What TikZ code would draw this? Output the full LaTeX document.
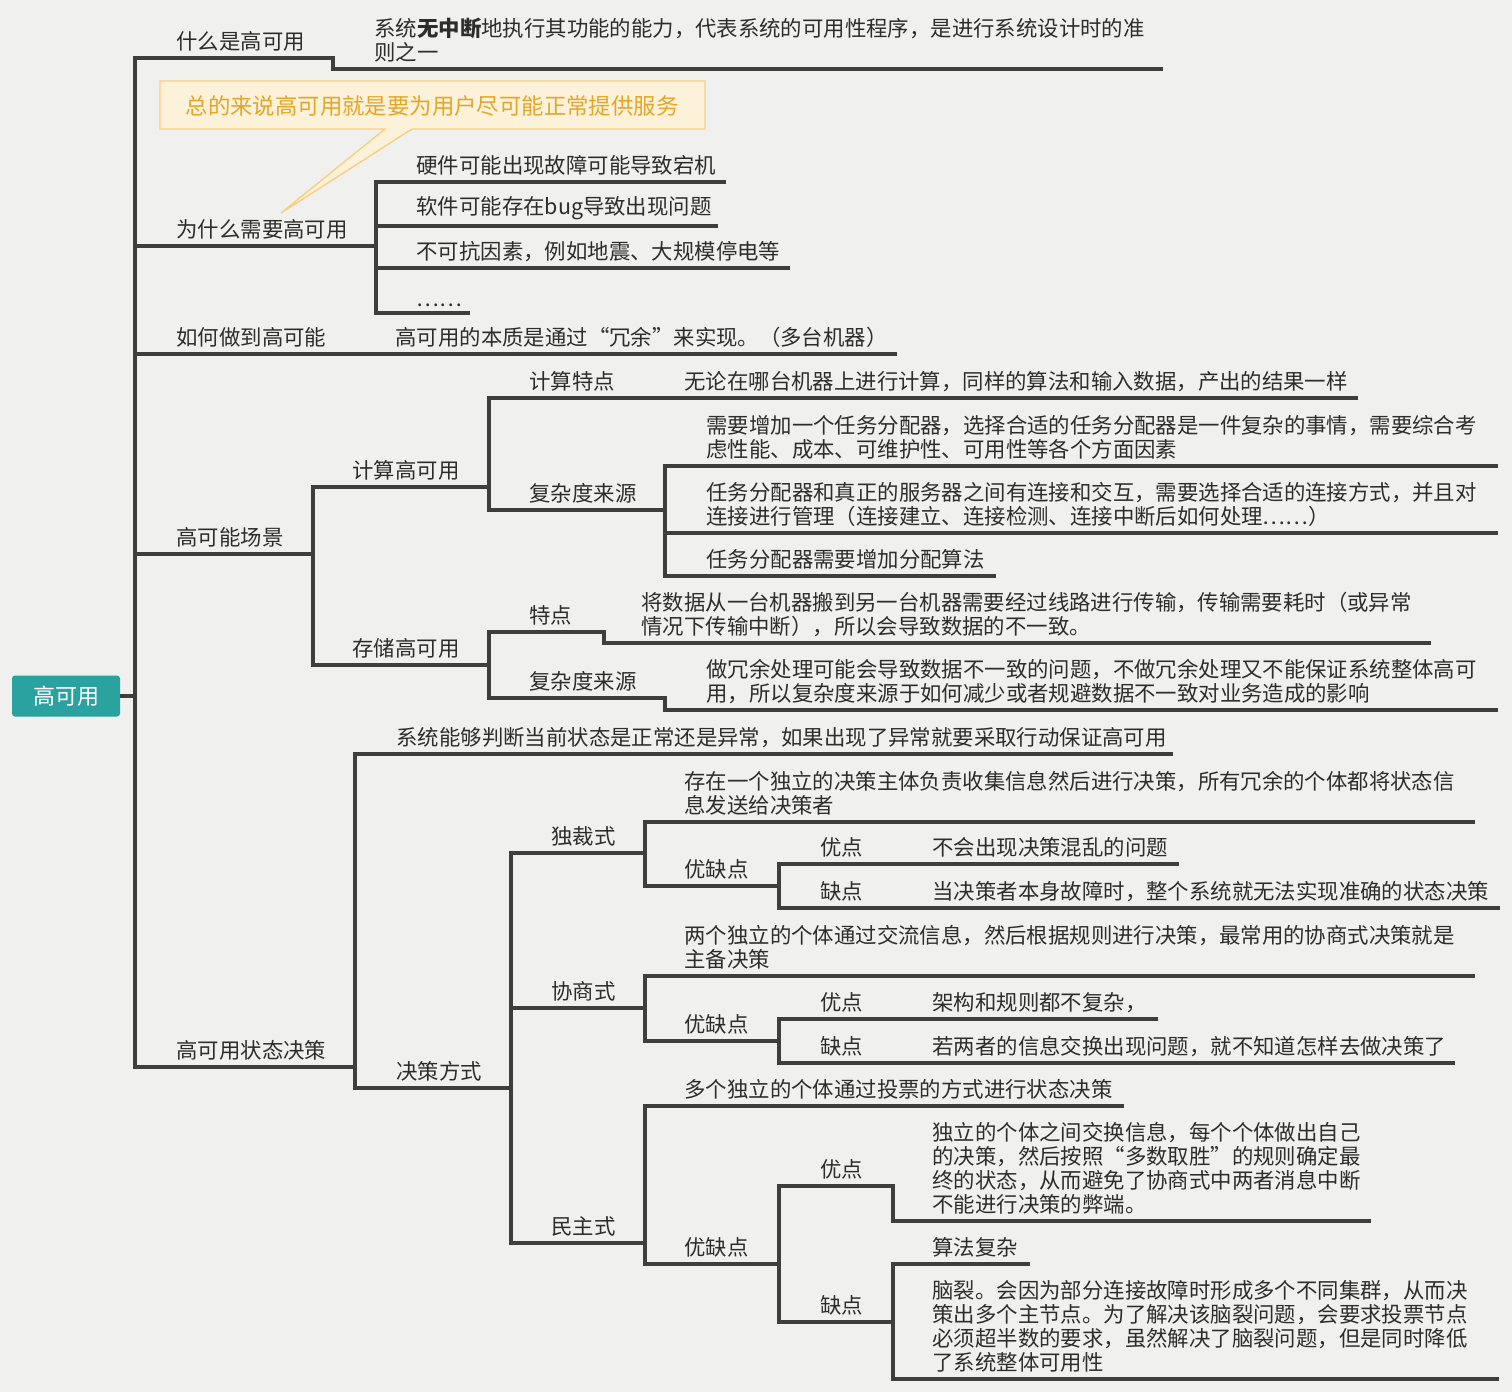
\documentclass[tikz,border=0pt]{standalone}
\usepackage{fontspec}
\usetikzlibrary{positioning}
\newfontfamily\cjk{Noto Sans CJK SC}
\definecolor{PaperGray}{RGB}{240,240,238}
\definecolor{LineGray}{RGB}{62,62,62}
\definecolor{InkGray}{RGB}{45,45,45}
\definecolor{RootTeal}{RGB}{42,163,160}
\definecolor{NoteFill}{RGB}{252,242,218}
\definecolor{NoteEdge}{RGB}{248,206,130}
\definecolor{NoteInk}{RGB}{228,165,40}

\begin{document}
\begin{tikzpicture}[x=0.5pt,y=-0.5pt,
  branch/.style={draw=LineGray,line width=2pt},
  item/.style={anchor=south west,inner sep=0pt,yshift=3pt,align=left,
    font=\cjk\fontsize{10.7}{12}\selectfont,text=InkGray},
  rootbox/.style={fill=RootTeal,rounded corners=1.5pt,minimum width=54pt,
    minimum height=20.5pt,inner sep=0pt,text=white,font=\cjk\fontsize{11}{12}\selectfont}]
  \fill[PaperGray] (0,0) rectangle (1512,1392);
  \useasboundingbox (0,0) rectangle (1512,1392);

  % trunks (x only)
  \coordinate (t0) at (135,0);
  \coordinate (t1) at (376,0);
  \coordinate (t2) at (313,0);
  \coordinate (t3) at (489,0);
  \coordinate (t4) at (665,0);
  \coordinate (t5) at (355,0);
  \coordinate (t6) at (511,0);
  \coordinate (t7) at (645,0);
  \coordinate (t8) at (779,0);
  \coordinate (t9) at (893,0);

  % line ends
  \coordinate (whatS1) at (333,58);
  \coordinate (whatS2) at (333,69);
  \coordinate (whatE) at (1163,69);
  \coordinate (whyE) at (376,246);
  \coordinate (why1E) at (726,182);
  \coordinate (why2E) at (718,226);
  \coordinate (why3E) at (790,268);
  \coordinate (why4E) at (470,313);
  \coordinate (howE) at (897,354);
  \coordinate (sceneE) at (313,554);
  \coordinate (calcE) at (489,487);
  \coordinate (calcFeatE) at (1358,398);
  \coordinate (calcCplxE) at (665,510);
  \coordinate (cc1E) at (1498,466);
  \coordinate (cc2E) at (1498,533);
  \coordinate (cc3E) at (996,576);
  \coordinate (storeE) at (489,665);
  \coordinate (storeFeatS1) at (604,632);
  \coordinate (storeFeatS2) at (604,643);
  \coordinate (storeFeatE) at (1431,643);
  \coordinate (storeCplxS1) at (665,698);
  \coordinate (storeCplxS2) at (665,710);
  \coordinate (storeCplxE) at (1498,710);
  \coordinate (stateE) at (355,1067);
  \coordinate (stateTxtE) at (1173,754);
  \coordinate (modeE) at (511,1088);
  \coordinate (dictE) at (645,853);
  \coordinate (dictTxtE) at (1475,822);
  \coordinate (dictPcE) at (779,886);
  \coordinate (dictProE) at (1179,864);
  \coordinate (dictConE) at (1500,908);
  \coordinate (negoE) at (645,1008);
  \coordinate (negoTxtE) at (1475,976);
  \coordinate (negoPcE) at (779,1041);
  \coordinate (negoProE) at (1158,1019);
  \coordinate (negoConE) at (1455,1063);
  \coordinate (demoE) at (645,1243);
  \coordinate (demoTxtE) at (1124,1106);
  \coordinate (demoPcE) at (779,1264);
  \coordinate (demoProS1) at (893,1186);
  \coordinate (demoProS2) at (893,1221);
  \coordinate (demoProE) at (1371,1221);
  \coordinate (demoConE) at (893,1322);
  \coordinate (demoCon1E) at (1030,1264);
  \coordinate (demoCon2E) at (1499,1379);

  % callout
  \filldraw[fill=NoteFill,draw=NoteEdge,line width=0.7pt]
    (160,81) -- (705,81) -- (705,129) -- (412,129) -- (281,213) -- (385,129) -- (160,129) -- cycle;
  \node[inner sep=0pt,font=\cjk\fontsize{11.2}{12}\selectfont,text=NoteInk] (note) at (432,106)
    {总的来说高可用就是要为用户尽可能正常提供服务};

  % root and main trunk
  \node[rootbox] (root) at (66,696) {高可用};
  \draw[branch] (root.east) -- (t0 |- root.east);
  \draw[branch] (whatE) -- (whatS2) -- (whatS1) -- (t0 |- whatS1) -- (t0 |- stateE) -- (stateE);
  \draw[branch] (t0 |- whyE) -- (whyE);
  \draw[branch] (t0 |- howE) -- (howE);
  \draw[branch] (t0 |- sceneE) -- (sceneE);

  % why
  \draw[branch] (why1E) -- (t1 |- why1E) -- (t1 |- why4E) -- (why4E);
  \draw[branch] (t1 |- why2E) -- (why2E);
  \draw[branch] (t1 |- why3E) -- (why3E);

  % scene
  \draw[branch] (calcE) -- (t2 |- calcE) -- (t2 |- storeE) -- (storeE);
  \draw[branch] (calcFeatE) -- (t3 |- calcFeatE) -- (t3 |- calcCplxE) -- (calcCplxE);
  \draw[branch] (cc1E) -- (t4 |- cc1E) -- (t4 |- cc3E) -- (cc3E);
  \draw[branch] (t4 |- cc2E) -- (cc2E);
  \draw[branch] (storeFeatE) -- (storeFeatS2) -- (storeFeatS1) -- (t3 |- storeFeatS1)
    -- (t3 |- storeCplxS1) -- (storeCplxS1) -- (storeCplxS2) -- (storeCplxE);

  % state
  \draw[branch] (stateTxtE) -- (t5 |- stateTxtE) -- (t5 |- modeE) -- (modeE);
  \draw[branch] (dictE) -- (t6 |- dictE) -- (t6 |- demoE) -- (demoE);
  \draw[branch] (t6 |- negoE) -- (negoE);
  \draw[branch] (dictTxtE) -- (t7 |- dictTxtE) -- (t7 |- dictPcE) -- (dictPcE);
  \draw[branch] (dictProE) -- (t8 |- dictProE) -- (t8 |- dictConE) -- (dictConE);
  \draw[branch] (negoTxtE) -- (t7 |- negoTxtE) -- (t7 |- negoPcE) -- (negoPcE);
  \draw[branch] (negoProE) -- (t8 |- negoProE) -- (t8 |- negoConE) -- (negoConE);
  \draw[branch] (demoTxtE) -- (t7 |- demoTxtE) -- (t7 |- demoPcE) -- (demoPcE);
  \draw[branch] (demoProE) -- (demoProS2) -- (demoProS1) -- (t8 |- demoProS1)
    -- (t8 |- demoConE) -- (demoConE);
  \draw[branch] (demoCon1E) -- (t9 |- demoCon1E) -- (t9 |- demoCon2E) -- (demoCon2E);

  % texts
  \node[item] (what) at (176,58) {什么是高可用};
  \node[item] (whatTxt) at (374,69) {系统\textbf{无中断}地执行其功能的能力，代表系统的可用性程序，是进行系统设计时的准\\则之一};
  \node[item] (why) at (176,246) {为什么需要高可用};
  \node[item] (why1) at (416,182) {硬件可能出现故障可能导致宕机};
  \node[item] (why2) at (416,226) {软件可能存在bug导致出现问题};
  \node[item] (why3) at (416,268) {不可抗因素，例如地震、大规模停电等};
  \node[item] (why4) at (416,313) {……};
  \node[item] (how) at (176,354) {如何做到高可能};
  \node[item] (howTxt) at (395,354) {高可用的本质是通过“冗余”来实现。（多台机器）};
  \node[item] (scene) at (176,554) {高可能场景};
  \node[item] (calc) at (352,487) {计算高可用};
  \node[item] (calcFeat) at (529,398) {计算特点};
  \node[item] (calcFeatTxt) at (684,398) {无论在哪台机器上进行计算，同样的算法和输入数据，产出的结果一样};
  \node[item] (calcCplx) at (529,510) {复杂度来源};
  \node[item] (cc1) at (706,466) {需要增加一个任务分配器，选择合适的任务分配器是一件复杂的事情，需要综合考\\虑性能、成本、可维护性、可用性等各个方面因素};
  \node[item] (cc2) at (706,533) {任务分配器和真正的服务器之间有连接和交互，需要选择合适的连接方式，并且对\\连接进行管理（连接建立、连接检测、连接中断后如何处理……）};
  \node[item] (cc3) at (706,576) {任务分配器需要增加分配算法};
  \node[item] (store) at (352,665) {存储高可用};
  \node[item] (storeFeat) at (529,632) {特点};
  \node[item] (storeFeatTxt) at (641,643) {将数据从一台机器搬到另一台机器需要经过线路进行传输，传输需要耗时（或异常\\情况下传输中断），所以会导致数据的不一致。};
  \node[item] (storeCplx) at (529,698) {复杂度来源};
  \node[item] (storeCplxTxt) at (706,710) {做冗余处理可能会导致数据不一致的问题，不做冗余处理又不能保证系统整体高可\\用，所以复杂度来源于如何减少或者规避数据不一致对业务造成的影响};
  \node[item] (state) at (176,1067) {高可用状态决策};
  \node[item] (stateTxt) at (396,754) {系统能够判断当前状态是正常还是异常，如果出现了异常就要采取行动保证高可用};
  \node[item] (mode) at (396,1088) {决策方式};
  \node[item] (dict) at (551,853) {独裁式};
  \node[item] (dictTxt) at (684,822) {存在一个独立的决策主体负责收集信息然后进行决策，所有冗余的个体都将状态信\\息发送给决策者};
  \node[item] (dictPc) at (684,886) {优缺点};
  \node[item] (dictPro) at (820,864) {优点};
  \node[item] (dictProTxt) at (932,864) {不会出现决策混乱的问题};
  \node[item] (dictCon) at (820,908) {缺点};
  \node[item] (dictConTxt) at (932,908) {当决策者本身故障时，整个系统就无法实现准确的状态决策};
  \node[item] (nego) at (551,1008) {协商式};
  \node[item] (negoTxt) at (684,976) {两个独立的个体通过交流信息，然后根据规则进行决策，最常用的协商式决策就是\\主备决策};
  \node[item] (negoPc) at (684,1041) {优缺点};
  \node[item] (negoPro) at (820,1019) {优点};
  \node[item] (negoProTxt) at (932,1019) {架构和规则都不复杂，};
  \node[item] (negoCon) at (820,1063) {缺点};
  \node[item] (negoConTxt) at (932,1063) {若两者的信息交换出现问题，就不知道怎样去做决策了};
  \node[item] (demo) at (551,1243) {民主式};
  \node[item] (demoTxt) at (684,1106) {多个独立的个体通过投票的方式进行状态决策};
  \node[item] (demoPc) at (684,1264) {优缺点};
  \node[item] (demoPro) at (820,1186) {优点};
  \node[item] (demoProTxt) at (932,1221) {独立的个体之间交换信息，每个个体做出自己\\的决策，然后按照“多数取胜”的规则确定最\\终的状态，从而避免了协商式中两者消息中断\\不能进行决策的弊端。};
  \node[item] (demoCon) at (820,1322) {缺点};
  \node[item] (demoCon1) at (932,1264) {算法复杂};
  \node[item] (demoCon2) at (932,1379) {脑裂。会因为部分连接故障时形成多个不同集群，从而决\\策出多个主节点。为了解决该脑裂问题，会要求投票节点\\必须超半数的要求，虽然解决了脑裂问题，但是同时降低\\了系统整体可用性};
\end{tikzpicture}
\end{document}
